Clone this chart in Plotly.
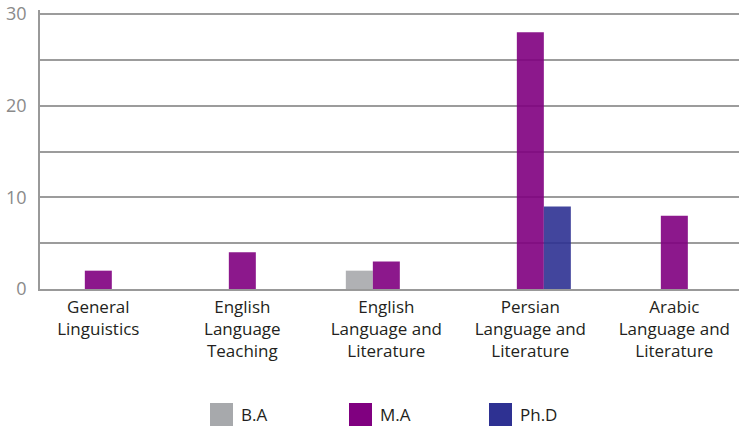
import plotly.graph_objects as go

# Study fields and number of theses per degree level
fields = [
    "General<br>Linguistics",
    "English<br>Language<br>Teaching",
    "English<br>Language and<br>Literature",
    "Persian<br>Language and<br>Literature",
    "Arabic<br>Language and<br>Literature",
]
ba_counts = [None, None, 2, None, None]
ma_counts = [2, 4, 3, 28, 8]
phd_counts = [None, None, None, 9, None]

series_names = ["B.A", "M.A", "Ph.D"]
series_colors = ["#A7A9AC", "#800080", "#2E3192"]

y_ticks = [0, 5, 10, 15, 20, 25, 30]
y_tick_text = ["0", "", "10", "", "20", "", "30"]

W, H = 739, 428
L, R, T, B = 40, 739, 10, 289  # plot area in pixels
Y_TOP = 30.44  # a little headroom so the 30 gridline stays visible
FONT = "Open Sans"

fig = go.Figure()
for name, vals, col in zip(series_names, [ba_counts, ma_counts, phd_counts], series_colors):
    fig.add_trace(go.Bar(
        x=list(range(len(fields))), y=vals, name=name,
        marker=dict(color=col, line=dict(width=0)), opacity=0.9,
        showlegend=False,
    ))

# Legend drawn as squares with labels below the chart
def px_x(v):
    return (v - L) / (R - L)

def px_y(v):
    return (B - v) / (B - T)

shapes = []
annotations = []
legend_left = [210, 349, 489]
for name, col, lx in zip(series_names, series_colors, legend_left):
    shapes.append(dict(type="rect", xref="paper", yref="paper",
                       x0=px_x(lx), x1=px_x(lx + 23), y0=px_y(426), y1=px_y(403),
                       fillcolor=col, line=dict(width=0)))
    annotations.append(dict(text=name, xref="paper", yref="paper",
                            x=px_x(lx + 29), y=px_y(414.5), xanchor="left", yanchor="middle",
                            showarrow=False, font=dict(family=FONT, size=17, color="#231F20")))

fig.update_layout(
    width=W, height=H,
    margin=dict(l=L, r=W - R, t=T, b=H - B, pad=0),
    paper_bgcolor="white", plot_bgcolor="white",
    barmode="group", bargap=0.4375, bargroupgap=0,
    shapes=shapes, annotations=annotations,
    showlegend=False,
    font=dict(family=FONT),
)
fig.update_xaxes(
    type="linear",
    range=[-0.405, 4.449],
    tickvals=list(range(len(fields))), ticktext=fields,
    tickfont=dict(family=FONT, size=17, color="#231F20"),
    showgrid=False, zeroline=False,
    showline=True, linecolor="#999999", linewidth=1.5,
    ticks="", ticklabelstandoff=2,
)
fig.update_yaxes(
    range=[0, Y_TOP],
    tickvals=y_ticks, ticktext=y_tick_text,
    tickfont=dict(family=FONT, size=18, color="#8A8A8A"),
    showgrid=True, gridcolor="#9C9C9C", gridwidth=1.5,
    zeroline=False,
    showline=True, linecolor="#999999", linewidth=1.5,
    ticks="", ticklabelstandoff=8,
)

fig.write_html("out.html")
